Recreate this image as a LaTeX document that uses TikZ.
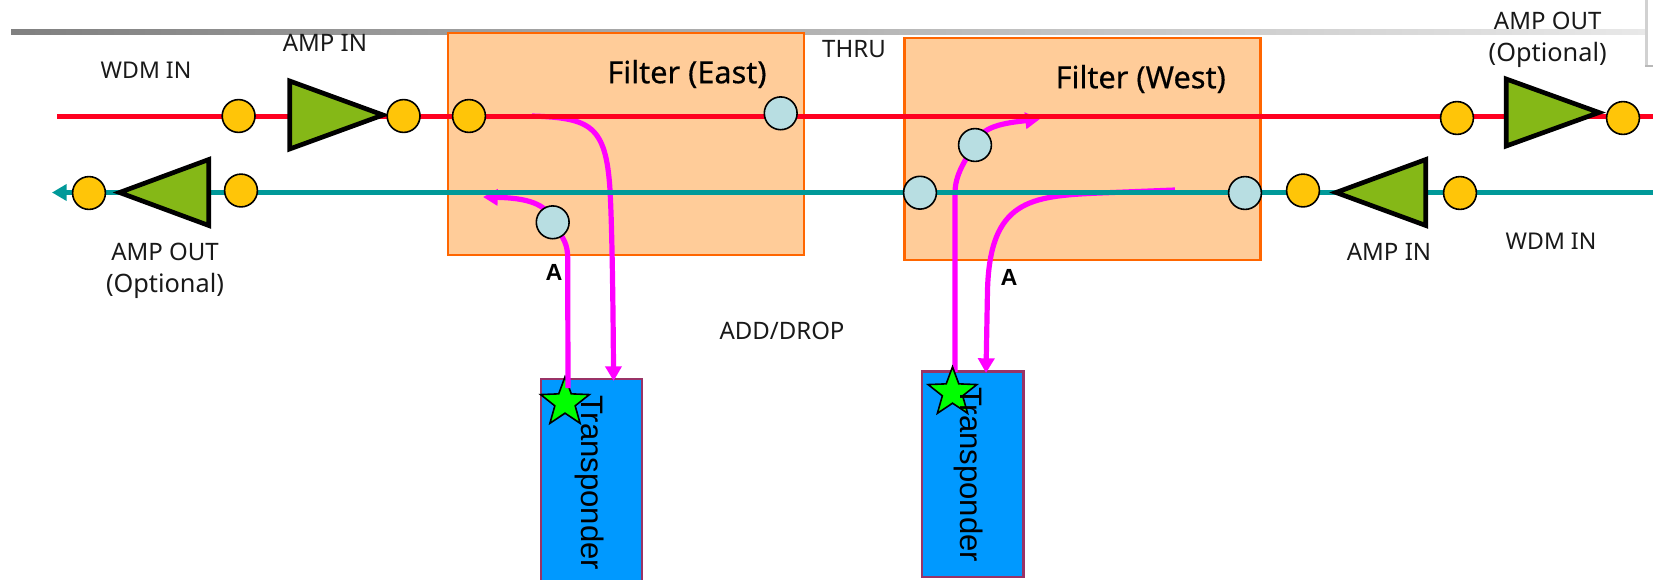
\documentclass[tikz,border=0pt]{standalone}
\usepackage{fontspec}
\setmainfont{Noto Sans}
\newfontfamily\transfont{Liberation Sans}
\newfontfamily\heavyfont[FakeBold=0.5]{Noto Sans}
\usetikzlibrary{arrows.meta,shapes.geometric}
\definecolor{barL}{HTML}{808080}
\definecolor{barR}{HTML}{E8E8E8}
\definecolor{redline}{HTML}{FF0020}
\definecolor{tealline}{HTML}{009999}
\definecolor{magline}{HTML}{FF00FF}
\definecolor{yellowdot}{HTML}{FFC508}
\definecolor{bluedot}{HTML}{B8DEE2}
\definecolor{ampgreen}{HTML}{85B817}
\definecolor{filterfill}{HTML}{FFCC99}
\definecolor{filterline}{HTML}{FF6600}
\definecolor{transfill}{HTML}{0099FF}
\definecolor{transline}{HTML}{993366}
\tikzset{
  x=0.75pt,y=-0.75pt,
  filterbox/.style={draw=filterline,fill=filterfill,line width=2.1pt,inner sep=0,outer sep=0,minimum width=267pt,minimum height=166.5pt},
  transbox/.style={draw=transline,fill=transfill,line width=1.9pt,inner sep=0,outer sep=0},
  dot/.style={circle,draw=black,line width=1.2pt,inner sep=0,outer sep=0,minimum size=24.6pt},
  yel/.style={dot,fill=yellowdot},
  blu/.style={dot,fill=bluedot},
  amp/.style={draw=black,fill=ampgreen,line width=3.5pt,miter limit=10},
  redwire/.style={draw=redline,line width=3.8pt},
  tealwire/.style={draw=tealline,line width=3.8pt,-{Triangle[length=11pt,width=12pt]}},
  magwire/.style={draw=magline,line width=3.9pt},
  magarrow/.style={magwire,-{Triangle[length=11pt,width=12pt]}},
  lbl/.style={inner sep=0,outer sep=0,font=\fontsize{18}{24}\selectfont,align=center,text=black!90},
  wdmlbl/.style={lbl,font=\fontsize{17.3}{24}\selectfont},
  boldlbl/.style={inner sep=0,outer sep=0,font=\heavyfont\fontsize{23}{24}\selectfont,text=black},
  alabel/.style={inner sep=0,outer sep=0,font=\transfont\bfseries\fontsize{17.5}{24}\selectfont,text=black},
  translbl/.style={inner sep=0,outer sep=0,rotate=-90,anchor=base west,font=\transfont\fontsize{23.3}{24}\selectfont,text=black},
  staricon/.style={star,star points=5,star point ratio=2.4,draw=black,fill=green,line width=1.2pt,inner sep=0,outer sep=0,minimum size=38.5pt},
}
\begin{document}
\begin{tikzpicture}
\useasboundingbox (0,0) rectangle (1653,579);
\clip (0,0) rectangle (1653,579);
% top bar and window corner
\fill[left color=barL,right color=barR] (11,29) rectangle (1645,34);
\fill[black!18] (1645,0) rectangle (1648,67);
\fill[black!28] (1645,65) rectangle (1653,67);
% filters
\node[filterbox] (fe) at (626,144) {};
\node[filterbox] (fw) at (1082.5,149) {};
% transponders
\node[transbox,minimum width=75.5pt,minimum height=165pt] (t1) at (591.5,489) {};
\node[transbox,minimum width=76pt,minimum height=154pt] (t2) at (972.75,474.3) {};
\node[staricon] (s1) at (565,402.5) {};
% anchors
\coordinate (redL) at (57,116.5);
\coordinate (redR) at (1653,116.5);
\coordinate (tealR) at (1653,192.5);
\coordinate (tealL) at (52,192.5);
\coordinate (d1s) at (532,116);
\coordinate (d1e) at (613.6,381);
\coordinate (a1s) at (568,388);
\coordinate (a1e) at (483,197);
\coordinate (a2s) at (955,372);
\coordinate (a2e) at (1040,119);
\coordinate (d2s) at (1175,190);
\coordinate (d2e) at (986,373);
% circles named first (drawn later)
\path node[blu,draw=none,fill=none] (ce2) at (552.7,222.3) {}
      node[blu,draw=none,fill=none] (cw1) at (975,145) {};
% magenta paths
\draw[magarrow] (d1s) .. controls (590,118) and (606,125) .. (610,190) .. controls (612,225) and (613,300) .. (d1e);
\draw[magwire] (a1s) -- (567.7,258) .. controls (567.5,245) and (565,240) .. (ce2.center);
\draw[magarrow] (ce2.center) .. controls (548,203) and (525,198) .. (a1e);
\draw[magwire] (a2s) -- (955,193) .. controls (955,175) and (965,160) .. (cw1.center);
\draw[magarrow] (cw1.center) .. controls (980,126) and (1005,123) .. (a2e);
\draw[magarrow] (d2s) -- (1100,193) .. controls (1030,196) and (990,200) .. (987.5,290) -- (d2e);
% main lines
\draw[redwire] (redL) -- (redR);
\draw[tealwire] (tealR) -- (tealL);
% amps
\draw[amp] (289.7,81) -- (289.7,149) -- (383,115) -- cycle;
\draw[amp] (119.5,192.5) -- (208.8,159.5) -- (208.8,225.5) -- cycle;
\draw[amp] (1506.2,79) -- (1506.2,146) -- (1599,112.5) -- cycle;
\draw[amp] (1336,192.5) -- (1425.8,159.5) -- (1425.8,225.5) -- cycle;
% yellow connectors
\node[yel] (y1) at (238.6,116) {};
\node[yel] (y2) at (403.6,116) {};
\node[yel] (y3) at (469,116) {};
\node[yel] (y4) at (89,193) {};
\node[yel] (y5) at (241,190.5) {};
\node[yel] (y6) at (1457,118) {};
\node[yel] (y7) at (1623,118) {};
\node[yel] (y8) at (1303,190.5) {};
\node[yel] (y9) at (1460,193) {};
% blue connectors
\node[blu] (be1) at (780.7,113.3) {};
\node[blu] (be2) at (552.7,222.3) {};
\node[blu] (bw1) at (975,145) {};
\node[blu] (bw2) at (920,192.7) {};
\node[blu] (bw3) at (1245,193) {};
\node[staricon] (s2) at (952.5,392.5) {};
% texts
\node[translbl] (tt1) at (581,395) {Transponder};
\node[translbl] (tt2) at (960.7,387) {Transponder};
\node[boldlbl] (lfe) at (687,74) {Filter (East)};
\node[boldlbl] (lfw) at (1140.7,79) {Filter (West)};
\node[wdmlbl] (l1) at (146,70) {WDM IN};
\node[lbl] (l2) at (325,43) {AMP IN};
\node[lbl] (l3) at (165,271) {AMP OUT\\{\fontsize{19}{24}\selectfont (Optional)}};
\node[lbl] (l4) at (1547.7,40) {AMP OUT\\{\fontsize{19}{24}\selectfont (Optional)}};
\node[wdmlbl] (l5) at (1551,241) {WDM IN};
\node[lbl] (l6) at (1389,252) {AMP IN};
\node[lbl] (l7) at (854,49.5) {THRU};
\node[lbl] (l8) at (782,331) {ADD/DROP};
\node[alabel] (a1) at (554,272) {A};
\node[alabel] (a2) at (1009,277) {A};
\end{tikzpicture}
\end{document}
